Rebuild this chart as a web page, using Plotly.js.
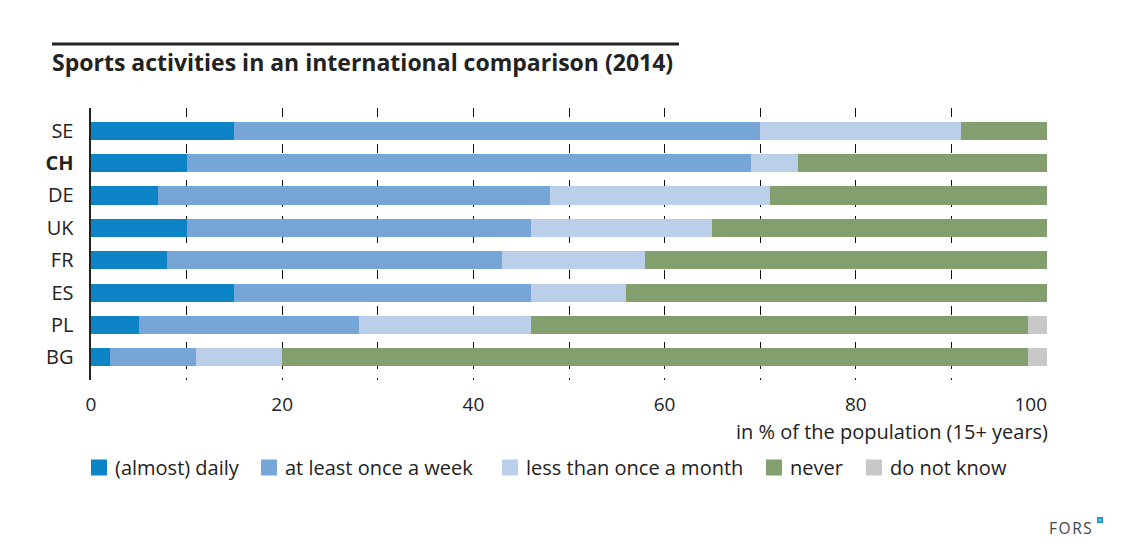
<!DOCTYPE html>
<html>
<head>
<meta charset="utf-8">
<script src="https://cdn.plot.ly/plotly-3.0.1.min.js"></script>
<style>html,body{margin:0;padding:0;background:#fff;}#chart{width:1127px;height:556px;}</style>
</head>
<body>
<div id="chart"></div>
<script>
const countries = ["SE", "CH", "DE", "UK", "FR", "ES", "PL", "BG"];
const countryLabels = ["SE", "<b>CH</b>", "DE", "UK", "FR", "ES", "PL", "BG"];
const seriesNames = ["(almost) daily", "at least once a week", "less than once a month", "never", "do not know"];
const daily = [15, 10, 7, 10, 8, 15, 5, 2];
const weekly = [55, 59, 41, 36, 35, 31, 23, 9];
const lessMonthly = [21, 5, 23, 19, 15, 10, 18, 9];
const never = [9, 26, 29, 35, 42, 44, 52, 78];
const dontKnow = [0, 0, 0, 0, 0, 0, 2, 2];
const xTicks = [0, 20, 40, 60, 80, 100];
const xTickLabels = ["0", "20", "40", "60", "80", "100\u2007\u2007\u2007"];
const colors = ["#0c84c6", "#76a5d8", "#bbcfea", "#839f6e", "#c8c8c8"];

const allSeries = [daily, weekly, lessMonthly, never, dontKnow];
const FONT = "Open Sans, Noto Sans, sans-serif";

const traces = allSeries.map((vals, i) => ({
  type: "bar",
  orientation: "h",
  name: seriesNames[i],
  y: countries,
  x: vals,
  marker: {color: colors[i], line: {width: 0}},
  hoverinfo: "x+y+name",
  showlegend: false
}));

const pl = 91, pr = 80, pt = 108, pb = 176;
const pw = 1127 - pl - pr, ph = 556 - pt - pb;
const px = v => (v - pl) / pw;
const py = v => (pt + ph - v) / ph;

// custom legend layout (pixel positions of swatches)
const legendX = [91, 261, 502, 766, 866];
const legendY = 467.5;
const sw = 16;

const shapes = [
  {type: "line", xref: "paper", yref: "paper",
   x0: px(52), x1: px(679), y0: py(44), y1: py(44),
   line: {color: "#222", width: 3}},
  {type: "rect", xref: "paper", yref: "paper",
   x0: px(1097), x1: px(1103), y0: py(523), y1: py(517),
   fillcolor: "#1a9ad6", line: {width: 0}},
  {type: "rect", xref: "paper", yref: "paper",
   x0: px(1099.2), x1: px(1100.8), y0: py(520.8), y1: py(519.2),
   fillcolor: "#ffffff", line: {width: 0}}
];
const annotations = [
  {text: "in % of the population (15+ years)", xref: "paper", yref: "paper",
   x: px(1049), xanchor: "right", y: py(431.5), yanchor: "middle", showarrow: false,
   borderpad: 0, font: {family: FONT, size: 20, color: "#222"}},
  {text: "F\u200aO\u200aR\u200aS", xref: "paper", yref: "paper",
   x: px(1094), xanchor: "right", y: py(528), yanchor: "middle", showarrow: false,
   font: {family: FONT, size: 15.5, color: "#444"}}
];
seriesNames.forEach((name, i) => {
  shapes.push({type: "rect", xref: "paper", yref: "paper",
    x0: px(legendX[i]), x1: px(legendX[i] + sw), y0: py(legendY + sw / 2), y1: py(legendY - sw / 2),
    fillcolor: colors[i], line: {width: 0}});
  annotations.push({text: name, xref: "paper", yref: "paper",
    x: px(legendX[i] + sw + 6), xanchor: "left", y: py(legendY), yanchor: "middle",
    showarrow: false, font: {family: FONT, size: 20, color: "#222"}});
});

const layout = {
  width: 1127, height: 556,
  margin: {l: pl, r: pr, t: pt, b: pb, pad: 0},
  paper_bgcolor: "#fff", plot_bgcolor: "#fff",
  barmode: "stack",
  bargap: 0.44,
  font: {family: FONT, size: 20, color: "#222"},
  title: {
    text: "<b>Sports activities in an international comparison (2014)</b>",
    font: {family: FONT, size: 23, color: "#222"},
    xref: "container", x: 52 / 1127, xanchor: "left",
    yref: "container", y: 1 - 63 / 556, yanchor: "middle"
  },
  xaxis: {
    range: [0, 100],
    tickvals: xTicks,
    ticktext: xTickLabels,
    ticks: "",
    ticklabelstandoff: 11,
    showgrid: true, gridcolor: "#111", gridwidth: 1, griddash: "dash",
    minor: {dtick: 10, tick0: 0, showgrid: true, gridcolor: "#111", gridwidth: 1, griddash: "dash", ticks: ""},
    zeroline: false, showline: false,
    tickfont: {family: FONT, size: 19, color: "#222"},
    fixedrange: true
  },
  yaxis: {
    type: "category",
    categoryorder: "array", categoryarray: countries,
    range: [7.7, -0.7],
    tickvals: countries, ticktext: countryLabels,
    ticks: "", ticklabelstandoff: 11,
    showgrid: false, zeroline: false,
    showline: true, linecolor: "#222", linewidth: 2.5,
    tickfont: {family: FONT, size: 20, color: "#222"},
    fixedrange: true
  },
  showlegend: false,
  shapes: shapes,
  annotations: annotations
};

Plotly.newPlot("chart", traces, layout, {displayModeBar: false, staticPlot: true});
</script>
</body>
</html>
